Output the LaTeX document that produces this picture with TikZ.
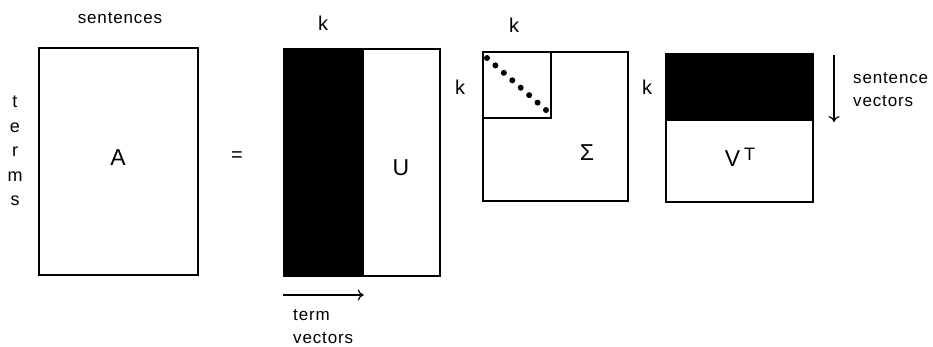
\documentclass[tikz,border=0pt]{standalone}
\usepackage{fontspec}
\setmainfont[LetterSpace=5]{Liberation Sans}
\usetikzlibrary{arrows.meta}
\begin{document}
\begin{tikzpicture}[x=1pt,y=-1pt,
  mat/.style={draw,line width=1.4pt,inner sep=0pt},
  lbl/.style={font=\fontsize{17}{20}\selectfont,inner sep=0pt},
  kay/.style={font=\fontsize{20}{22}\selectfont,inner sep=0pt},
  big/.style={font=\fontsize{23}{26}\selectfont,inner sep=0pt},
  vec/.style={-{To[length=6pt,width=11pt]},line width=1.2pt}]
\useasboundingbox (0,0) rectangle (933,346);

% the matrix A
\node[mat,minimum width=159pt,minimum height=227pt] (A) at (118.5,161.5) {};
\node[big] (Alab) at (118,158) {A};
\node[lbl] (sent) at (120,18) {sentences};
\node[lbl,align=center,font=\fontsize{18}{24.5}\selectfont] (terms) at (15,151) {t\\e\\r\\m\\s};
\node[kay] (eq) at (237,157) {=};

% U
\node[mat,minimum width=156pt,minimum height=227pt] (U) at (362,162.5) {};
\node[mat,fill=black,minimum width=79pt,minimum height=227pt,anchor=north west] (Uk) at (U.north west) {};
\node[big] (Ulab) at (401,168) {U};
\node[kay] (k1) at (323,23) {k};
\node[kay] (k2) at (460,87) {k};
\coordinate (tv1) at (Uk.south west |- 0,295);
\coordinate (tv2) at (Uk.south east |- 0,295);
\draw[vec] (tv1) -- (tv2);
\node[lbl,align=left,anchor=north west,font=\fontsize{17}{23}\selectfont] (tvec) at (293,309) {term\\vectors};

% Sigma
\node[mat,minimum width=145pt,minimum height=149pt] (S) at (555.5,126.5) {};
\node[mat,minimum width=68pt,minimum height=66pt,anchor=north west] (Sk) at (S.north west) {};
\foreach \i in {0,...,7}
  \fill (487+\i*8.43,58+\i*7.43) circle (3);
\node[big] (Slab) at (587,153) {Σ};
\node[kay] (k3) at (514,25) {k};
\node[kay] (k4) at (647,87) {k};

% V transposed
\node[mat,minimum width=147pt,minimum height=148pt] (V) at (739.5,128) {};
\node[mat,fill=black,minimum width=147pt,minimum height=66pt,anchor=north west] (Vk) at (V.north west) {};
\node[big] (Vlab) at (740,157) {V\,\raisebox{6pt}{\fontsize{18}{18}\selectfont T}};
\coordinate (sv1) at (834,55);
\coordinate (sv2) at (834,122);
\draw[vec] (sv1) -- (sv2);
\node[lbl,align=left,anchor=west,font=\fontsize{17}{23}\selectfont] (svec) at (853,90) {sentence\\vectors};
\end{tikzpicture}
\end{document}
